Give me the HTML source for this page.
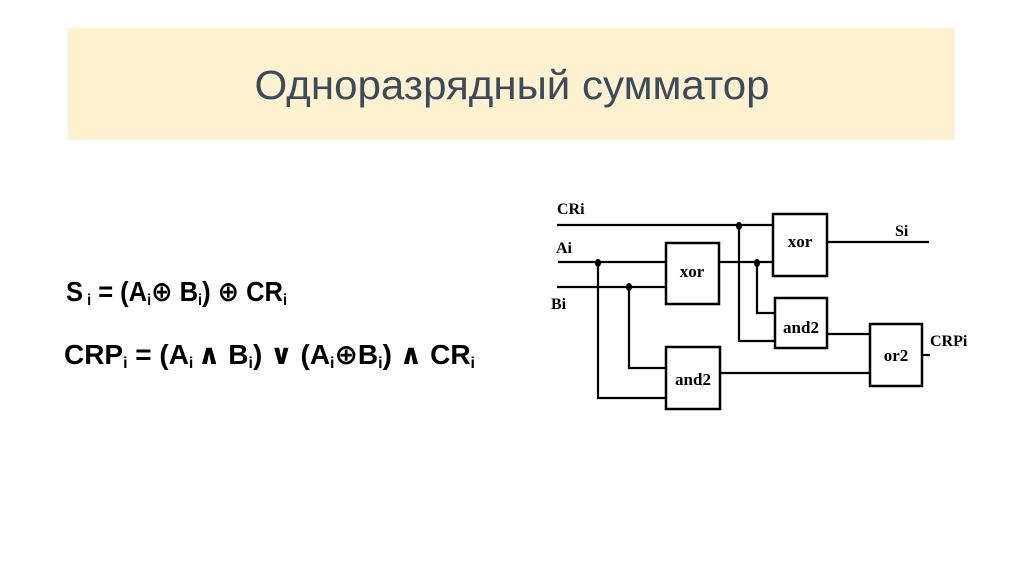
<!DOCTYPE html>
<html><head><meta charset="utf-8"><style>html,body{margin:0;padding:0;background:#fff}</style></head>
<body>
<svg width="1024" height="574" xmlns="http://www.w3.org/2000/svg" style="display:block">
<rect x="68" y="28" width="887" height="112" fill="#fdf1d0"/>
<text x="512" y="99" text-anchor="middle" font-family="Liberation Sans, sans-serif" font-size="41" fill="#3c4a5e" textLength="515" lengthAdjust="spacingAndGlyphs">Одноразрядный сумматор</text>

<g font-family="Liberation Sans, DejaVu Sans, sans-serif" font-weight="bold" fill="#000">
<text x="66" y="301" font-size="28" textLength="221" lengthAdjust="spacingAndGlyphs">S<tspan font-size="16" dy="4"> i</tspan><tspan dy="-4"> = (A</tspan><tspan font-size="16" dy="4">i</tspan><tspan dy="-4">⊕ B</tspan><tspan font-size="16" dy="4">i</tspan><tspan dy="-4">) ⊕ CR</tspan><tspan font-size="16" dy="4">i</tspan></text>
<text x="64" y="364" font-size="28" textLength="411" lengthAdjust="spacingAndGlyphs">CRP<tspan font-size="16" dy="4">i</tspan><tspan dy="-4"> = (A</tspan><tspan font-size="16" dy="4">i </tspan><tspan dy="-4">∧ B</tspan><tspan font-size="16" dy="4">i</tspan><tspan dy="-4">) ∨ (A</tspan><tspan font-size="16" dy="4">i</tspan><tspan dy="-4">⊕B</tspan><tspan font-size="16" dy="4">i</tspan><tspan dy="-4">) ∧ CR</tspan><tspan font-size="16" dy="4">i</tspan></text>
</g>

<g stroke="#000" stroke-width="2.2" fill="none">
<line x1="557" y1="225" x2="774" y2="225"/>
<line x1="827" y1="242" x2="929" y2="242"/>
<line x1="558" y1="262" x2="666" y2="262"/>
<line x1="557" y1="287" x2="666" y2="287"/>
<line x1="719" y1="262" x2="774" y2="262"/>
<polyline points="598,262 598,398 666,398"/>
<polyline points="629,287 629,368 666,368"/>
<polyline points="739,225 739,341 775,341"/>
<polyline points="757,262 757,313 775,313"/>
<line x1="827" y1="334" x2="870" y2="334"/>
<line x1="720" y1="373" x2="870" y2="373"/>
<line x1="922" y1="355" x2="930" y2="355"/>
<g stroke-width="2.5">
<rect x="773" y="214" width="54" height="62"/>
<rect x="666" y="243" width="53" height="61"/>
<rect x="775" y="298" width="52" height="50"/>
<rect x="666" y="347" width="54" height="62"/>
<rect x="870" y="324" width="52" height="62"/>
</g>
</g>
<g fill="#000">
<ellipse cx="598" cy="263" rx="3" ry="4"/>
<ellipse cx="629" cy="287" rx="3" ry="4"/>
<ellipse cx="739" cy="226" rx="3" ry="4"/>
<ellipse cx="757" cy="263" rx="3" ry="4"/>
</g>
<g font-family="Liberation Serif, serif" font-weight="bold" font-size="16" fill="#000">
<text x="557" y="214">CRi</text>
<text x="556" y="253">Ai</text>
<text x="551" y="309">Bi</text>
<text x="895" y="236">Si</text>
<text x="930" y="346">CRPi</text>
<g font-size="17">
<text x="692" y="277" text-anchor="middle">xor</text>
<text x="800" y="247" text-anchor="middle">xor</text>
<text x="801" y="333" text-anchor="middle">and2</text>
<text x="693" y="385" text-anchor="middle">and2</text>
<text x="896" y="361" text-anchor="middle">or2</text>
</g>
</g>
</svg>
</body></html>
